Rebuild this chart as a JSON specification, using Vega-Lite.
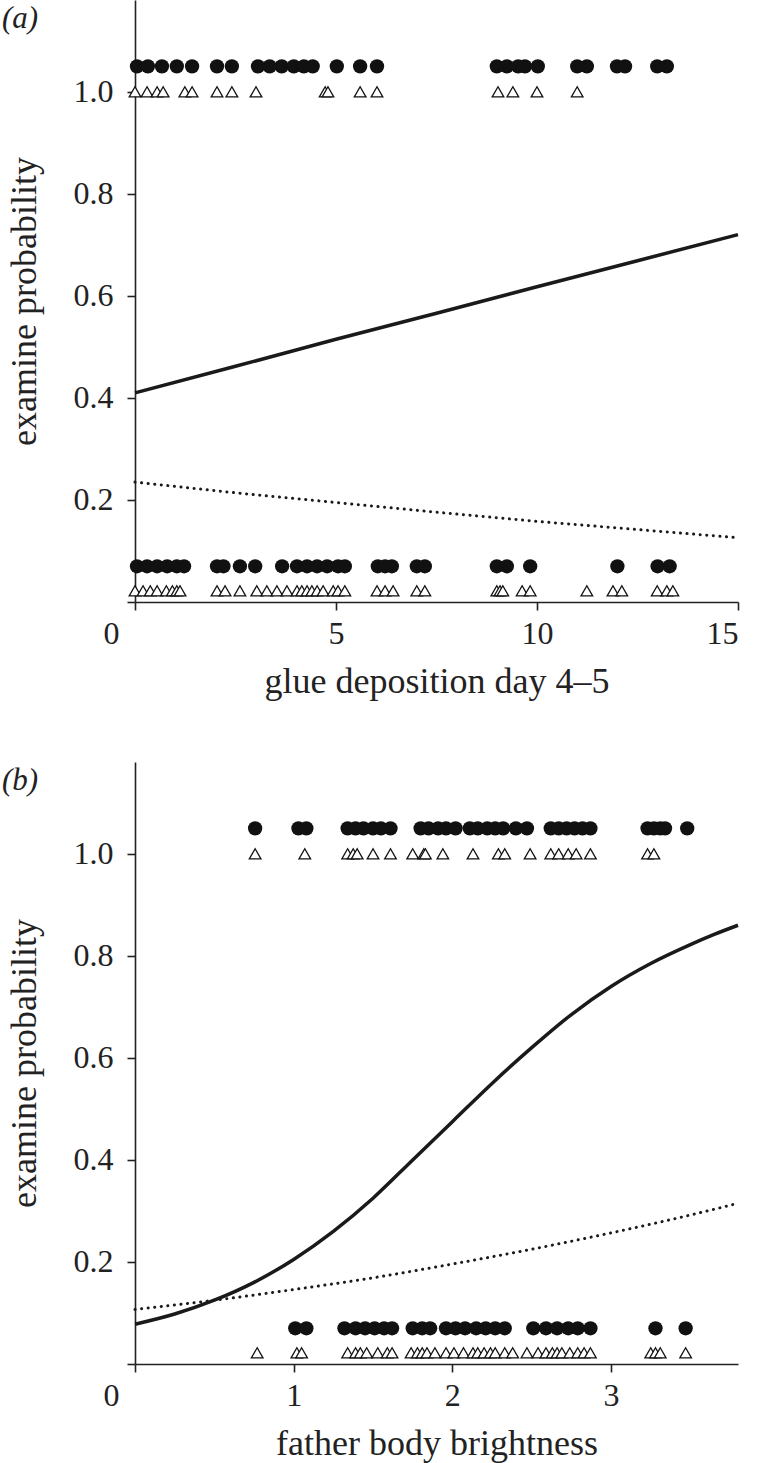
{
  "$schema": "https://vega.github.io/schema/vega-lite/v6.json",
  "padding": {"left": 2, "top": 0, "right": 5, "bottom": 5},
  "spacing": 63,
  "config": {
    "view": {"stroke": null},
    "font": "Liberation Serif",
    "axis": {"labelFont": "Liberation Serif", "labelFontSize": 32, "titleFont": "Liberation Serif", "titleFontSize": 36, "titleFontWeight": "normal", "domainColor": "#222", "tickColor": "#222", "labelColor": "#222", "titleColor": "#222", "grid": false, "domainWidth": 1.6, "tickWidth": 1.6, "tickSize": 8},
    "title": {"font": "Liberation Serif", "fontSize": 31, "fontWeight": "normal", "fontStyle": "italic", "color": "#222", "anchor": "start", "frame": "bounds", "offset": -35, "dx": -4}
  },
  "datasets": {
    "a_pts": [
      {"x": 0.05, "y": 1.05, "m": "c"}, {"x": 0.32, "y": 1.05, "m": "c"}, {"x": 0.67, "y": 1.05, "m": "c"}, {"x": 1.04, "y": 1.05, "m": "c"}, {"x": 1.42, "y": 1.05, "m": "c"}, {"x": 2.04, "y": 1.05, "m": "c"}, {"x": 2.41, "y": 1.05, "m": "c"}, {"x": 3.06, "y": 1.05, "m": "c"}, {"x": 3.35, "y": 1.05, "m": "c"}, {"x": 3.65, "y": 1.05, "m": "c"}, {"x": 3.95, "y": 1.05, "m": "c"}, {"x": 4.2, "y": 1.05, "m": "c"}, {"x": 4.42, "y": 1.05, "m": "c"}, {"x": 5.02, "y": 1.05, "m": "c"}, {"x": 5.6, "y": 1.05, "m": "c"}, {"x": 6.02, "y": 1.05, "m": "c"}, {"x": 9.0, "y": 1.05, "m": "c"}, {"x": 9.25, "y": 1.05, "m": "c"}, {"x": 9.53, "y": 1.05, "m": "c"}, {"x": 9.7, "y": 1.05, "m": "c"}, {"x": 10.02, "y": 1.05, "m": "c"}, {"x": 11.0, "y": 1.05, "m": "c"}, {"x": 11.24, "y": 1.05, "m": "c"}, {"x": 11.99, "y": 1.05, "m": "c"}, {"x": 12.19, "y": 1.05, "m": "c"}, {"x": 12.99, "y": 1.05, "m": "c"}, {"x": 13.23, "y": 1.05, "m": "c"},
      {"x": 0.0, "y": 1.0, "m": "t"}, {"x": 0.3, "y": 1.0, "m": "t"}, {"x": 0.55, "y": 1.0, "m": "t"}, {"x": 0.7, "y": 1.0, "m": "t"}, {"x": 1.24, "y": 1.0, "m": "t"}, {"x": 1.42, "y": 1.0, "m": "t"}, {"x": 2.04, "y": 1.0, "m": "t"}, {"x": 2.41, "y": 1.0, "m": "t"}, {"x": 3.01, "y": 1.0, "m": "t"}, {"x": 4.73, "y": 1.0, "m": "t"}, {"x": 4.8, "y": 1.0, "m": "t"}, {"x": 5.6, "y": 1.0, "m": "t"}, {"x": 6.02, "y": 1.0, "m": "t"}, {"x": 9.03, "y": 1.0, "m": "t"}, {"x": 9.4, "y": 1.0, "m": "t"}, {"x": 10.0, "y": 1.0, "m": "t"}, {"x": 11.0, "y": 1.0, "m": "t"},
      {"x": 0.05, "y": 0.07, "m": "c"}, {"x": 0.3, "y": 0.07, "m": "c"}, {"x": 0.55, "y": 0.07, "m": "c"}, {"x": 0.8, "y": 0.07, "m": "c"}, {"x": 1.04, "y": 0.07, "m": "c"}, {"x": 1.22, "y": 0.07, "m": "c"}, {"x": 2.04, "y": 0.07, "m": "c"}, {"x": 2.2, "y": 0.07, "m": "c"}, {"x": 2.61, "y": 0.07, "m": "c"}, {"x": 2.99, "y": 0.07, "m": "c"}, {"x": 3.66, "y": 0.07, "m": "c"}, {"x": 4.03, "y": 0.07, "m": "c"}, {"x": 4.28, "y": 0.07, "m": "c"}, {"x": 4.53, "y": 0.07, "m": "c"}, {"x": 4.78, "y": 0.07, "m": "c"}, {"x": 5.05, "y": 0.07, "m": "c"}, {"x": 5.22, "y": 0.07, "m": "c"}, {"x": 6.04, "y": 0.07, "m": "c"}, {"x": 6.22, "y": 0.07, "m": "c"}, {"x": 6.39, "y": 0.07, "m": "c"}, {"x": 7.01, "y": 0.07, "m": "c"}, {"x": 7.21, "y": 0.07, "m": "c"}, {"x": 9.0, "y": 0.07, "m": "c"}, {"x": 9.25, "y": 0.07, "m": "c"}, {"x": 9.83, "y": 0.07, "m": "c"}, {"x": 12.0, "y": 0.07, "m": "c"}, {"x": 13.0, "y": 0.07, "m": "c"}, {"x": 13.3, "y": 0.07, "m": "c"},
      {"x": 0.0, "y": 0.022, "m": "t"}, {"x": 0.2, "y": 0.022, "m": "t"}, {"x": 0.38, "y": 0.022, "m": "t"}, {"x": 0.55, "y": 0.022, "m": "t"}, {"x": 0.78, "y": 0.022, "m": "t"}, {"x": 0.93, "y": 0.022, "m": "t"}, {"x": 1.04, "y": 0.022, "m": "t"}, {"x": 1.12, "y": 0.022, "m": "t"}, {"x": 2.04, "y": 0.022, "m": "t"}, {"x": 2.24, "y": 0.022, "m": "t"}, {"x": 2.61, "y": 0.022, "m": "t"}, {"x": 3.03, "y": 0.022, "m": "t"}, {"x": 3.28, "y": 0.022, "m": "t"}, {"x": 3.53, "y": 0.022, "m": "t"}, {"x": 3.78, "y": 0.022, "m": "t"}, {"x": 4.03, "y": 0.022, "m": "t"}, {"x": 4.15, "y": 0.022, "m": "t"}, {"x": 4.28, "y": 0.022, "m": "t"}, {"x": 4.4, "y": 0.022, "m": "t"}, {"x": 4.53, "y": 0.022, "m": "t"}, {"x": 4.68, "y": 0.022, "m": "t"}, {"x": 4.93, "y": 0.022, "m": "t"}, {"x": 5.05, "y": 0.022, "m": "t"}, {"x": 5.22, "y": 0.022, "m": "t"}, {"x": 6.02, "y": 0.022, "m": "t"}, {"x": 6.22, "y": 0.022, "m": "t"}, {"x": 6.42, "y": 0.022, "m": "t"}, {"x": 7.01, "y": 0.022, "m": "t"}, {"x": 7.21, "y": 0.022, "m": "t"}, {"x": 9.0, "y": 0.022, "m": "t"}, {"x": 9.08, "y": 0.022, "m": "t"}, {"x": 9.15, "y": 0.022, "m": "t"}, {"x": 9.63, "y": 0.022, "m": "t"}, {"x": 9.83, "y": 0.022, "m": "t"}, {"x": 11.24, "y": 0.022, "m": "t"}, {"x": 11.89, "y": 0.022, "m": "t"}, {"x": 12.11, "y": 0.022, "m": "t"}, {"x": 12.99, "y": 0.022, "m": "t"}, {"x": 13.23, "y": 0.022, "m": "t"}, {"x": 13.38, "y": 0.022, "m": "t"}
    ],
    "a_fit": [
      {"x": 0, "p": 0.41, "fit": "solid"}, {"x": 2.5, "p": 0.462, "fit": "solid"}, {"x": 5, "p": 0.515, "fit": "solid"}, {"x": 7.5, "p": 0.566, "fit": "solid"}, {"x": 10, "p": 0.618, "fit": "solid"}, {"x": 12.5, "p": 0.669, "fit": "solid"}, {"x": 15, "p": 0.72, "fit": "solid"},
      {"x": 0, "p": 0.235, "fit": "dotted"}, {"x": 2.5, "p": 0.214, "fit": "dotted"}, {"x": 5, "p": 0.195, "fit": "dotted"}, {"x": 7.5, "p": 0.176, "fit": "dotted"}, {"x": 10, "p": 0.158, "fit": "dotted"}, {"x": 12.5, "p": 0.142, "fit": "dotted"}, {"x": 15, "p": 0.126, "fit": "dotted"}
    ],
    "b_pts": [
      {"x": 0.757, "y": 1.05, "m": "c"}, {"x": 1.03, "y": 1.05, "m": "c"}, {"x": 1.08, "y": 1.05, "m": "c"}, {"x": 1.34, "y": 1.05, "m": "c"}, {"x": 1.39, "y": 1.05, "m": "c"}, {"x": 1.44, "y": 1.05, "m": "c"}, {"x": 1.5, "y": 1.05, "m": "c"}, {"x": 1.55, "y": 1.05, "m": "c"}, {"x": 1.61, "y": 1.05, "m": "c"}, {"x": 1.8, "y": 1.05, "m": "c"}, {"x": 1.85, "y": 1.05, "m": "c"}, {"x": 1.91, "y": 1.05, "m": "c"}, {"x": 1.96, "y": 1.05, "m": "c"}, {"x": 2.02, "y": 1.05, "m": "c"}, {"x": 2.11, "y": 1.05, "m": "c"}, {"x": 2.16, "y": 1.05, "m": "c"}, {"x": 2.22, "y": 1.05, "m": "c"}, {"x": 2.27, "y": 1.05, "m": "c"}, {"x": 2.32, "y": 1.05, "m": "c"}, {"x": 2.4, "y": 1.05, "m": "c"}, {"x": 2.47, "y": 1.05, "m": "c"}, {"x": 2.62, "y": 1.05, "m": "c"}, {"x": 2.67, "y": 1.05, "m": "c"}, {"x": 2.72, "y": 1.05, "m": "c"}, {"x": 2.77, "y": 1.05, "m": "c"}, {"x": 2.82, "y": 1.05, "m": "c"}, {"x": 2.87, "y": 1.05, "m": "c"}, {"x": 3.23, "y": 1.05, "m": "c"}, {"x": 3.27, "y": 1.05, "m": "c"}, {"x": 3.31, "y": 1.05, "m": "c"}, {"x": 3.34, "y": 1.05, "m": "c"}, {"x": 3.48, "y": 1.05, "m": "c"},
      {"x": 0.757, "y": 1.0, "m": "t"}, {"x": 1.07, "y": 1.0, "m": "t"}, {"x": 1.34, "y": 1.0, "m": "t"}, {"x": 1.375, "y": 1.0, "m": "t"}, {"x": 1.4, "y": 1.0, "m": "t"}, {"x": 1.5, "y": 1.0, "m": "t"}, {"x": 1.61, "y": 1.0, "m": "t"}, {"x": 1.75, "y": 1.0, "m": "t"}, {"x": 1.82, "y": 1.0, "m": "t"}, {"x": 1.83, "y": 1.0, "m": "t"}, {"x": 1.94, "y": 1.0, "m": "t"}, {"x": 2.13, "y": 1.0, "m": "t"}, {"x": 2.29, "y": 1.0, "m": "t"}, {"x": 2.33, "y": 1.0, "m": "t"}, {"x": 2.49, "y": 1.0, "m": "t"}, {"x": 2.62, "y": 1.0, "m": "t"}, {"x": 2.67, "y": 1.0, "m": "t"}, {"x": 2.73, "y": 1.0, "m": "t"}, {"x": 2.78, "y": 1.0, "m": "t"}, {"x": 2.87, "y": 1.0, "m": "t"}, {"x": 3.23, "y": 1.0, "m": "t"}, {"x": 3.27, "y": 1.0, "m": "t"},
      {"x": 1.01, "y": 0.07, "m": "c"}, {"x": 1.08, "y": 0.07, "m": "c"}, {"x": 1.32, "y": 0.07, "m": "c"}, {"x": 1.39, "y": 0.07, "m": "c"}, {"x": 1.45, "y": 0.07, "m": "c"}, {"x": 1.51, "y": 0.07, "m": "c"}, {"x": 1.57, "y": 0.07, "m": "c"}, {"x": 1.62, "y": 0.07, "m": "c"}, {"x": 1.75, "y": 0.07, "m": "c"}, {"x": 1.81, "y": 0.07, "m": "c"}, {"x": 1.86, "y": 0.07, "m": "c"}, {"x": 1.96, "y": 0.07, "m": "c"}, {"x": 2.02, "y": 0.07, "m": "c"}, {"x": 2.08, "y": 0.07, "m": "c"}, {"x": 2.15, "y": 0.07, "m": "c"}, {"x": 2.21, "y": 0.07, "m": "c"}, {"x": 2.27, "y": 0.07, "m": "c"}, {"x": 2.33, "y": 0.07, "m": "c"}, {"x": 2.51, "y": 0.07, "m": "c"}, {"x": 2.59, "y": 0.07, "m": "c"}, {"x": 2.66, "y": 0.07, "m": "c"}, {"x": 2.73, "y": 0.07, "m": "c"}, {"x": 2.79, "y": 0.07, "m": "c"}, {"x": 2.87, "y": 0.07, "m": "c"}, {"x": 3.28, "y": 0.07, "m": "c"}, {"x": 3.47, "y": 0.07, "m": "c"},
      {"x": 0.77, "y": 0.022, "m": "t"}, {"x": 1.02, "y": 0.022, "m": "t"}, {"x": 1.05, "y": 0.022, "m": "t"}, {"x": 1.34, "y": 0.022, "m": "t"}, {"x": 1.39, "y": 0.022, "m": "t"}, {"x": 1.42, "y": 0.022, "m": "t"}, {"x": 1.46, "y": 0.022, "m": "t"}, {"x": 1.53, "y": 0.022, "m": "t"}, {"x": 1.59, "y": 0.022, "m": "t"}, {"x": 1.62, "y": 0.022, "m": "t"}, {"x": 1.74, "y": 0.022, "m": "t"}, {"x": 1.78, "y": 0.022, "m": "t"}, {"x": 1.81, "y": 0.022, "m": "t"}, {"x": 1.84, "y": 0.022, "m": "t"}, {"x": 1.89, "y": 0.022, "m": "t"}, {"x": 1.96, "y": 0.022, "m": "t"}, {"x": 2.01, "y": 0.022, "m": "t"}, {"x": 2.07, "y": 0.022, "m": "t"}, {"x": 2.13, "y": 0.022, "m": "t"}, {"x": 2.16, "y": 0.022, "m": "t"}, {"x": 2.2, "y": 0.022, "m": "t"}, {"x": 2.24, "y": 0.022, "m": "t"}, {"x": 2.27, "y": 0.022, "m": "t"}, {"x": 2.33, "y": 0.022, "m": "t"}, {"x": 2.38, "y": 0.022, "m": "t"}, {"x": 2.47, "y": 0.022, "m": "t"}, {"x": 2.54, "y": 0.022, "m": "t"}, {"x": 2.59, "y": 0.022, "m": "t"}, {"x": 2.63, "y": 0.022, "m": "t"}, {"x": 2.66, "y": 0.022, "m": "t"}, {"x": 2.69, "y": 0.022, "m": "t"}, {"x": 2.74, "y": 0.022, "m": "t"}, {"x": 2.79, "y": 0.022, "m": "t"}, {"x": 2.83, "y": 0.022, "m": "t"}, {"x": 2.87, "y": 0.022, "m": "t"}, {"x": 3.25, "y": 0.022, "m": "t"}, {"x": 3.28, "y": 0.022, "m": "t"}, {"x": 3.31, "y": 0.022, "m": "t"}, {"x": 3.47, "y": 0.022, "m": "t"}
    ],
    "b_fit": [
      {"x": 0, "p": 0.078, "fit": "solid"}, {"x": 0.25, "p": 0.098, "fit": "solid"}, {"x": 0.5, "p": 0.125, "fit": "solid"}, {"x": 0.75, "p": 0.16, "fit": "solid"}, {"x": 1.0, "p": 0.205, "fit": "solid"}, {"x": 1.25, "p": 0.26, "fit": "solid"}, {"x": 1.5, "p": 0.325, "fit": "solid"}, {"x": 1.75, "p": 0.4, "fit": "solid"}, {"x": 2.0, "p": 0.475, "fit": "solid"}, {"x": 2.25, "p": 0.55, "fit": "solid"}, {"x": 2.5, "p": 0.62, "fit": "solid"}, {"x": 2.75, "p": 0.685, "fit": "solid"}, {"x": 3.0, "p": 0.74, "fit": "solid"}, {"x": 3.25, "p": 0.785, "fit": "solid"}, {"x": 3.5, "p": 0.822, "fit": "solid"}, {"x": 3.65, "p": 0.842, "fit": "solid"}, {"x": 3.8, "p": 0.86, "fit": "solid"},
      {"x": 0, "p": 0.107, "fit": "dotted"}, {"x": 0.5, "p": 0.125, "fit": "dotted"}, {"x": 1.0, "p": 0.146, "fit": "dotted"}, {"x": 1.5, "p": 0.169, "fit": "dotted"}, {"x": 2.0, "p": 0.196, "fit": "dotted"}, {"x": 2.5, "p": 0.225, "fit": "dotted"}, {"x": 3.0, "p": 0.257, "fit": "dotted"}, {"x": 3.5, "p": 0.292, "fit": "dotted"}, {"x": 3.8, "p": 0.315, "fit": "dotted"}
    ]
  },
  "vconcat": [
    {
      "title": {"text": "(a)"},
      "width": 603,
      "height": 602,
      "layer": [
        {
          "data": {"name": "a_fit"},
          "transform": [{"filter": "datum.fit == 'solid'"}],
          "mark": {"type": "line", "color": "#1a1a1a", "strokeWidth": 3.5},
          "encoding": {
            "x": {"field": "x", "type": "quantitative", "scale": {"domain": [0, 15], "nice": false, "zero": false},
              "axis": {"values": [0, 5, 10, 15], "format": "~g", "title": "glue deposition day 4–5", "labelPadding": 8, "titlePadding": 15, "labelOffset": {"condition": {"test": "datum.value === 0", "value": -32}, "value": 0}}},
            "y": {"field": "p", "type": "quantitative", "scale": {"domain": [0, 1.18], "nice": false},
              "axis": {"values": [0, 0.2, 0.4, 0.6, 0.8, 1.0], "title": "examine probability", "labelExpr": "datum.value == 0 ? '' : format(datum.value, '.1f')", "labelPadding": 14, "titlePadding": 30}}
          }
        },
        {
          "data": {"name": "a_fit"},
          "transform": [{"filter": "datum.fit == 'dotted'"}],
          "mark": {"type": "line", "color": "#1a1a1a", "strokeWidth": 3, "strokeDash": [0.1, 6.5], "strokeCap": "round"},
          "encoding": {"x": {"field": "x", "type": "quantitative"}, "y": {"field": "p", "type": "quantitative"}}
        },
        {
          "data": {"name": "a_pts"},
          "transform": [{"filter": "datum.m == 'c'"}],
          "mark": {"type": "point", "shape": "circle", "filled": true, "color": "#111", "size": 205, "opacity": 1},
          "encoding": {"x": {"field": "x", "type": "quantitative"}, "y": {"field": "y", "type": "quantitative"}}
        },
        {
          "data": {"name": "a_pts"},
          "transform": [{"filter": "datum.m == 't'"}],
          "mark": {"type": "point", "shape": "triangle-up", "filled": false, "fill": "white", "fillOpacity": 1, "stroke": "#111", "strokeWidth": 1.3, "size": 135, "opacity": 1},
          "encoding": {"x": {"field": "x", "type": "quantitative"}, "y": {"field": "y", "type": "quantitative"}}
        }
      ]
    },
    {
      "title": {"text": "(b)"},
      "width": 603,
      "height": 602,
      "layer": [
        {
          "data": {"name": "b_fit"},
          "transform": [{"filter": "datum.fit == 'solid'"}],
          "mark": {"type": "line", "color": "#1a1a1a", "strokeWidth": 3.5, "interpolate": "monotone"},
          "encoding": {
            "x": {"field": "x", "type": "quantitative", "scale": {"domain": [0, 3.8], "nice": false, "zero": false},
              "axis": {"values": [0, 1, 2, 3], "format": "~g", "title": "father body brightness", "labelPadding": 8, "titlePadding": 15, "labelOffset": {"condition": {"test": "datum.value === 0", "value": -32}, "value": 0}}},
            "y": {"field": "p", "type": "quantitative", "scale": {"domain": [0, 1.18], "nice": false},
              "axis": {"values": [0, 0.2, 0.4, 0.6, 0.8, 1.0], "title": "examine probability", "labelExpr": "datum.value == 0 ? '' : format(datum.value, '.1f')", "labelPadding": 14, "titlePadding": 30}}
          }
        },
        {
          "data": {"name": "b_fit"},
          "transform": [{"filter": "datum.fit == 'dotted'"}],
          "mark": {"type": "line", "color": "#1a1a1a", "strokeWidth": 3, "strokeDash": [0.1, 6.5], "strokeCap": "round", "interpolate": "monotone"},
          "encoding": {"x": {"field": "x", "type": "quantitative"}, "y": {"field": "p", "type": "quantitative"}}
        },
        {
          "data": {"name": "b_pts"},
          "transform": [{"filter": "datum.m == 'c'"}],
          "mark": {"type": "point", "shape": "circle", "filled": true, "color": "#111", "size": 205, "opacity": 1},
          "encoding": {"x": {"field": "x", "type": "quantitative"}, "y": {"field": "y", "type": "quantitative"}}
        },
        {
          "data": {"name": "b_pts"},
          "transform": [{"filter": "datum.m == 't'"}],
          "mark": {"type": "point", "shape": "triangle-up", "filled": false, "fill": "white", "fillOpacity": 1, "stroke": "#111", "strokeWidth": 1.3, "size": 135, "opacity": 1},
          "encoding": {"x": {"field": "x", "type": "quantitative"}, "y": {"field": "y", "type": "quantitative"}}
        }
      ]
    }
  ]
}
